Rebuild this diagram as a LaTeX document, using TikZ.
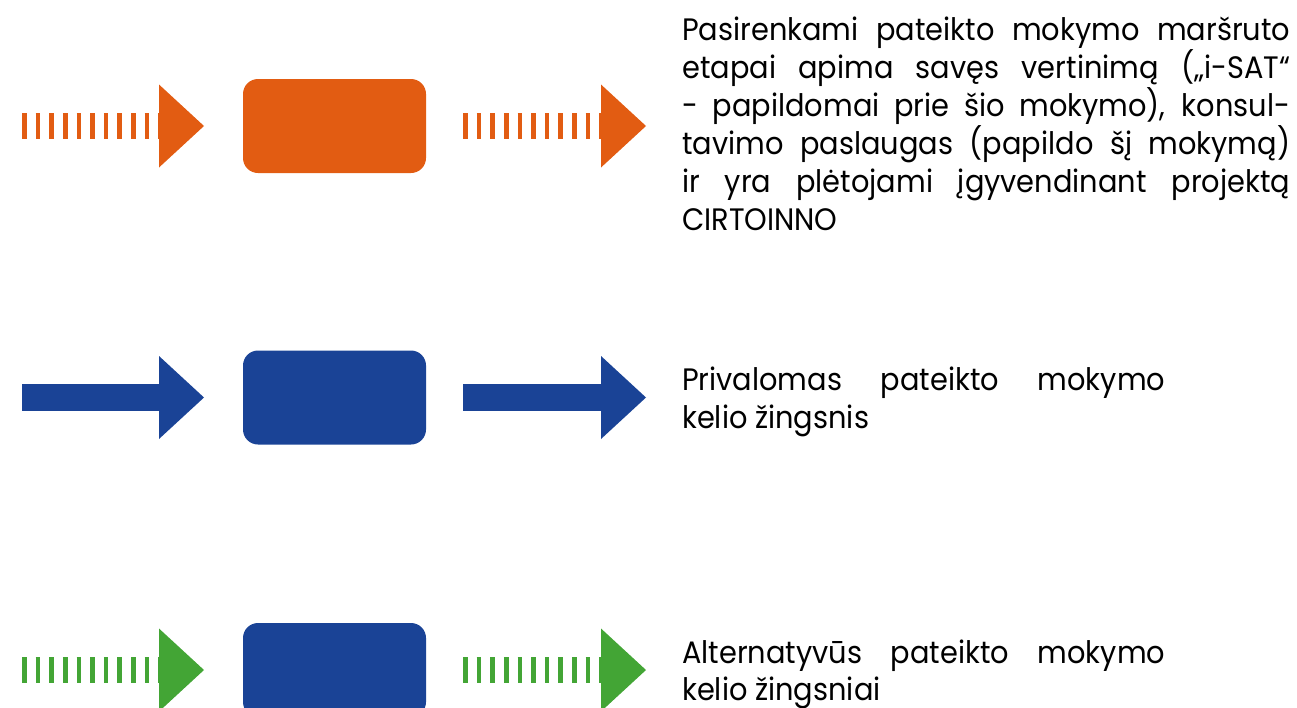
\documentclass[tikz,border=0pt]{standalone}
\usepackage{fontspec}
\setmainfont{Poppins}[FakeStretch=0.93]
\usetikzlibrary{arrows.meta}
\definecolor{stepOrange}{HTML}{E25C12}
\definecolor{stepBlue}{HTML}{1A4396}
\definecolor{stepGreen}{HTML}{43A535}
\tolerance=9999
\hyphenpenalty=10000
\tikzset{
  stepbox/.style = {rounded corners=15pt, minimum width=183pt, minimum height=94pt, inner sep=0pt},
  flow/.style = {line width=26.5pt, -{Triangle[length=45pt, width=83pt, line width=0pt]}},
  barflow/.style = {flow, dash pattern=on 4.7pt off 8.93pt},
  legend/.style = {anchor=base west, inner sep=0pt, align=justify,
    font=\fontsize{31}{37.9}\selectfont},
}

\begin{document}
\begin{tikzpicture}[x=1pt, y=-1pt]
  \useasboundingbox (0,0) rectangle (1297,707);
  \clip (0,0) rectangle (1297,707);

  % optional steps (orange)
  \node [stepbox, fill=stepOrange] (optbox) at (334.5,126) {};
  \coordinate (optin-s) at (22,126);
  \coordinate (optin-e) at (204,126);
  \coordinate (optout-s) at (463,126);
  \coordinate (optout-e) at (646,126);
  \draw [barflow, stepOrange] (optin-s) -- (optin-e);
  \draw [barflow, stepOrange] (optout-s) -- (optout-e);
  \node [legend, text width=608pt] (optdesc) at (682,40.7)
    {Pasirenkami pateikto mokymo maršruto\linebreak
     etapai apima savęs vertinimą („i-SAT“\linebreak
     - papildomai prie šio mokymo), konsul-\linebreak
     tavimo paslaugas (papildo šį mokymą)\linebreak
     ir yra plėtojami įgyvendinant projektą\linebreak
     CIRTOINNO};

  % mandatory step (blue)
  \node [stepbox, fill=stepBlue] (reqbox) at (334.5,397.5) {};
  \coordinate (reqin-s) at (22,397.5);
  \coordinate (reqin-e) at (204,397.5);
  \coordinate (reqout-s) at (463,397.5);
  \coordinate (reqout-e) at (646,397.5);
  \draw [flow, stepBlue] (reqin-s) -- (reqin-e);
  \draw [flow, stepBlue] (reqout-s) -- (reqout-e);
  \node [legend, text width=483pt] (reqdesc) at (682,390.7)
    {Privalomas pateikto mokymo\linebreak
     kelio žingsnis};

  % alternative steps (green)
  \node [stepbox, fill=stepBlue] (altbox) at (334.5,670) {};
  \coordinate (altin-s) at (22,670);
  \coordinate (altin-e) at (204,670);
  \coordinate (altout-s) at (463,670);
  \coordinate (altout-e) at (646,670);
  \draw [barflow, stepGreen] (altin-s) -- (altin-e);
  \draw [barflow, stepGreen] (altout-s) -- (altout-e);
  \node [legend, text width=483pt] (altdesc) at (682,663)
    {Alternatyvūs pateikto mokymo\linebreak
     kelio žingsniai};
\end{tikzpicture}
\end{document}
